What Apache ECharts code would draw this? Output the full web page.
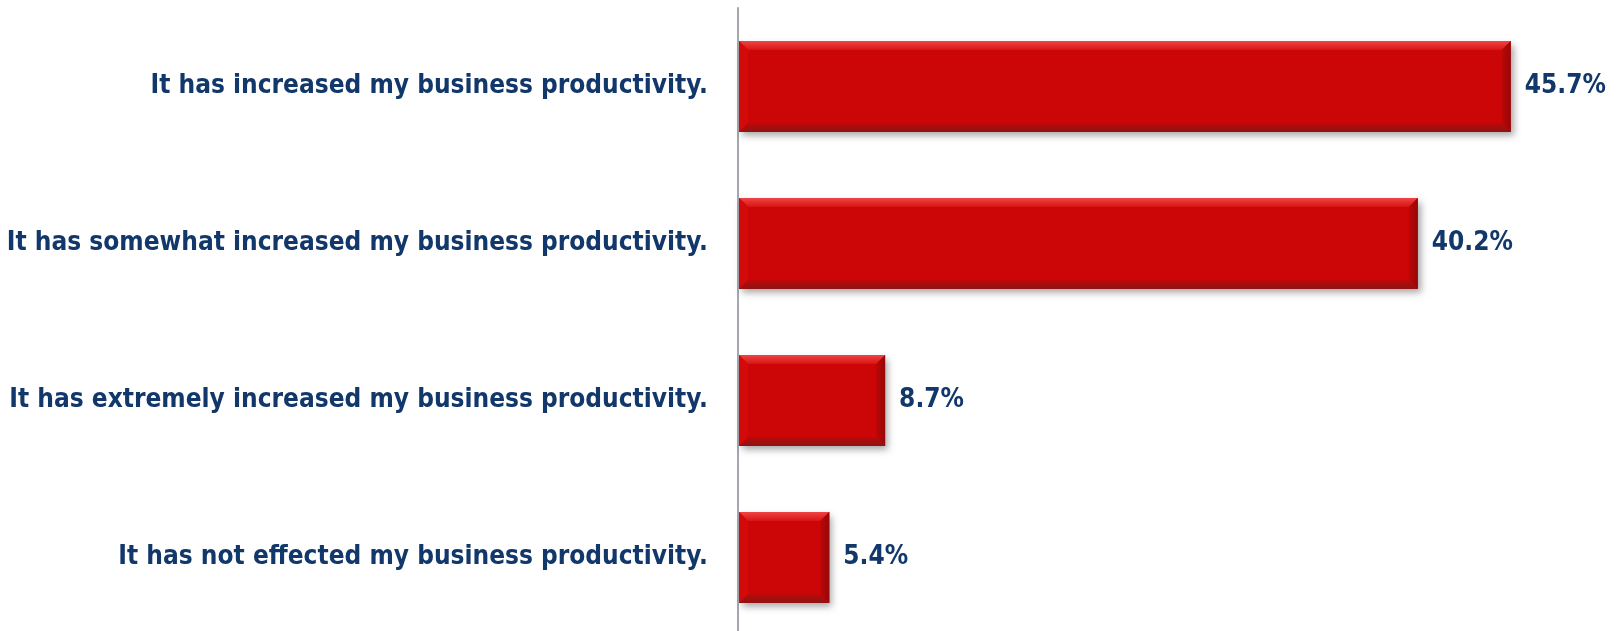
<!DOCTYPE html>
<html>
<head>
<meta charset="utf-8">
<title>Business productivity</title>
<script src="https://cdn.jsdelivr.net/npm/echarts@6/dist/echarts.min.js"></script>
<style>
  html, body { margin: 0; padding: 0; background: #ffffff; }
  #chart { width: 1619px; height: 631px; }
</style>
</head>
<body>
<div id="chart"></div>
<script>
// Survey answers, top to bottom
const categories = [
  'It has increased my business productivity.',
  'It has somewhat increased my business productivity.',
  'It has extremely increased my business productivity.',
  'It has not effected my business productivity.'
];
// Share of respondents, percent
const shares = [45.7, 40.2, 8.7, 5.4];

const navy = '#12376A';
const textFont = '"DejaVu Sans Condensed", "Liberation Sans Narrow", "Open Sans", sans-serif';
const bevel = 9;

const chart = echarts.init(document.getElementById('chart'), null, { renderer: 'canvas' });

// Bevelled red bar: flat face plus four edge facets
function renderBevelBar(params, api) {
  const cat = api.value(1);
  const val = api.value(0);
  const start = api.coord([0, cat]);
  const end = api.coord([val, cat]);
  const band = api.size([0, 1])[1];
  const h = band * 0.58;
  const x0 = start[0] + 1;
  const x1 = end[0];
  const y0 = start[1] - h / 2;
  const y1 = start[1] + h / 2;
  const b = Math.min(bevel, (x1 - x0) / 2);
  return {
    type: 'group',
    children: [
      {
        type: 'rect',
        shape: { x: x0, y: y0, width: x1 - x0, height: h },
        style: {
          fill: '#CC0606',
          shadowBlur: 7,
          shadowOffsetX: 3,
          shadowOffsetY: 4,
          shadowColor: 'rgba(0,0,0,0.35)'
        }
      },
      {
        type: 'polygon',
        shape: { points: [[x0, y0], [x1, y0], [x1 - b, y0 + b], [x0 + b, y0 + b]] },
        style: {
          fill: new echarts.graphic.LinearGradient(0, 0, 0, 1, [
            { offset: 0, color: '#F04444' },
            { offset: 1, color: '#D81414' }
          ])
        }
      },
      {
        type: 'polygon',
        shape: { points: [[x0, y1], [x1, y1], [x1 - b, y1 - b], [x0 + b, y1 - b]] },
        style: {
          fill: new echarts.graphic.LinearGradient(0, 0, 0, 1, [
            { offset: 0, color: '#BE0808' },
            { offset: 1, color: '#8C1414' }
          ])
        }
      },
      {
        type: 'polygon',
        shape: { points: [[x1, y0], [x1, y1], [x1 - b, y1 - b], [x1 - b, y0 + b]] },
        style: {
          fill: new echarts.graphic.LinearGradient(0, 0, 1, 0, [
            { offset: 0, color: '#BC0606' },
            { offset: 1, color: '#960808' }
          ])
        }
      },
      {
        type: 'polygon',
        shape: { points: [[x0, y0], [x0, y1], [x0 + b, y1 - b], [x0 + b, y0 + b]] },
        style: { fill: '#D20A0A' }
      }
    ]
  };
}

chart.setOption({
  animation: false,
  backgroundColor: '#ffffff',
  grid: {
    left: 738, top: 8, width: 845.5, height: 628,
    containLabel: false,
    outerBoundsMode: 'none'
  },
  xAxis: {
    type: 'value',
    min: 0,
    max: 50,
    show: false
  },
  yAxis: {
    type: 'category',
    data: categories,
    inverse: true,
    axisLine: { show: true, lineStyle: { color: '#A6A6B0', width: 2 } },
    axisTick: { show: false },
    splitLine: { show: false },
    axisLabel: {
      margin: 30,
      color: navy,
      fontFamily: textFont,
      fontWeight: 'bold',
      fontSize: 26
    }
  },
  series: [
    {
      // carries the value labels
      type: 'bar',
      data: shares,
      barWidth: '58%',
      itemStyle: { color: 'rgba(0,0,0,0)' },
      label: {
        show: true,
        position: 'right',
        distance: 14,
        formatter: '{c}%',
        color: navy,
        fontFamily: textFont,
        fontWeight: 'bold',
        fontSize: 26
      },
      z: 1
    },
    {
      type: 'custom',
      renderItem: renderBevelBar,
      encode: { x: 0, y: 1 },
      data: shares.map((v, i) => [v, i]),
      z: 3
    }
  ]
});
</script>
</body>
</html>
